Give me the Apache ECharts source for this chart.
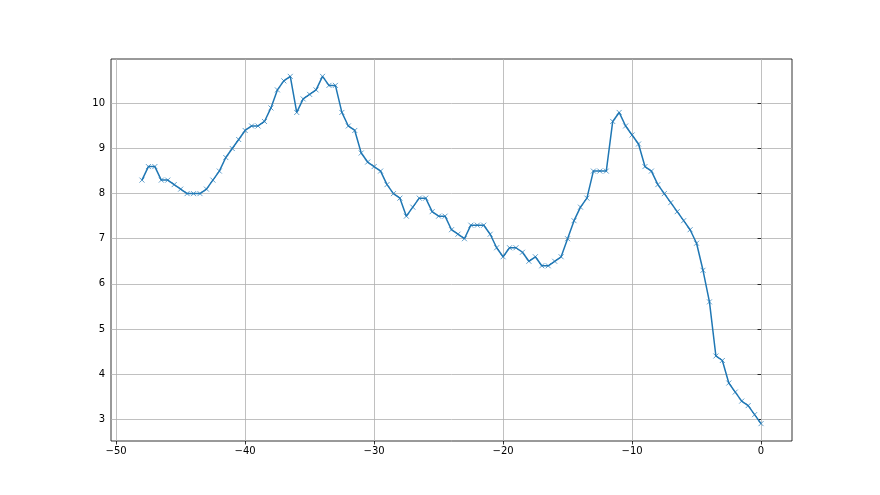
<!DOCTYPE html>
<html>
<head>
<meta charset="utf-8">
<script src="https://cdn.jsdelivr.net/npm/echarts@6/dist/echarts.min.js"></script>
<style>
	html, body { margin: 0; padding: 0; background: #fff; }
	#chart { width: 880px; height: 495px; }
</style>
</head>
<body>
<div id="chart"></div>
<script>
// x runs from -48 to 0 in steps of 0.5
const xStart = -48;
const xStep = 0.5;
const values = [
	8.3, 8.6, 8.6, 8.3, 8.3, 8.2, 8.1, 8.0, 8.0, 8.0,
	8.1, 8.3, 8.5, 8.8, 9.0, 9.2, 9.4, 9.5, 9.5, 9.6,
	9.9, 10.3, 10.5, 10.6, 9.8, 10.1, 10.2, 10.3, 10.6, 10.4,
	10.4, 9.8, 9.5, 9.4, 8.9, 8.7, 8.6, 8.5, 8.2, 8.0,
	7.9, 7.5, 7.7, 7.9, 7.9, 7.6, 7.5, 7.5, 7.2, 7.1,
	7.0, 7.3, 7.3, 7.3, 7.1, 6.8, 6.6, 6.8, 6.8, 6.7,
	6.5, 6.6, 6.4, 6.4, 6.5, 6.6, 7.0, 7.4, 7.7, 7.9,
	8.5, 8.5, 8.5, 9.6, 9.8, 9.5, 9.3, 9.1, 8.6, 8.5,
	8.2, 8.0, 7.8, 7.6, 7.4, 7.2, 6.9, 6.3, 5.6, 4.4,
	4.3, 3.8, 3.6, 3.4, 3.3, 3.1, 2.9
];
const xTicks = [-50, -40, -30, -20, -10, 0];
const yTicks = [3, 4, 5, 6, 7, 8, 9, 10];

const points = values.map((v, i) => [xStart + i * xStep, v]);

let myChart = echarts.init(document.getElementById("chart"));
let option = {
	animation: false,
	textStyle: { fontFamily: "DejaVu Sans" },
	grid: {
		left: 111,
		right: 88,
		top: 59,
		bottom: 54,
		show: true,
		borderColor: "#000",
		borderWidth: 0.8,
		backgroundColor: "#fff",
	},
	xAxis: {
		type: "value",
		min: -50.4,
		max: 2.4,
		axisLine: { show: false },
		axisTick: {
			customValues: xTicks,
			length: 3.5,
			lineStyle: { color: "#000", width: 0.8 },
		},
		axisLabel: {
			customValues: xTicks,
			color: "#000",
			fontSize: 10,
			margin: 5,
			formatter: (v) => (v < 0 ? "\u2212" + Math.abs(v) : String(v)),
		},
		splitLine: {
			show: true,
			lineStyle: { color: "#b0b0b0", width: 0.8 },
		},
	},
	yAxis: {
		type: "value",
		min: 2.515,
		max: 10.985,
		axisLine: { show: false },
		axisTick: {
			customValues: yTicks,
			length: 3.5,
			lineStyle: { color: "#000", width: 0.8 },
		},
		axisLabel: {
			customValues: yTicks,
			color: "#000",
			fontSize: 10,
			margin: 6,
		},
		splitLine: {
			show: true,
			lineStyle: { color: "#b0b0b0", width: 0.8 },
		},
	},
	series: [
		{
			type: "line",
			data: points,
			lineStyle: { color: "#1f77b4", width: 1.5 },
			symbol: "path://M0,0L10,10M10,0L0,10",
			symbolSize: 5,
			showAllSymbol: true,
			itemStyle: {
				color: "#1f77b4",
				borderColor: "#1f77b4",
				borderWidth: 0.7,
			},
		},
	],
};
myChart.setOption(option);
</script>
</body>
</html>
